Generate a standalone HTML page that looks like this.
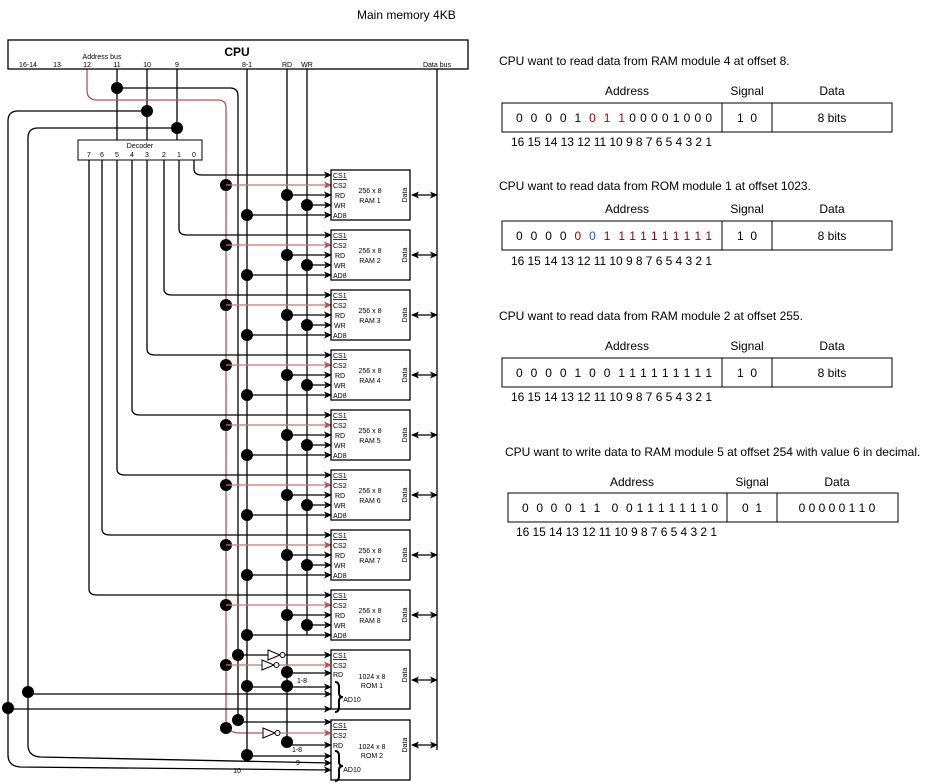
<!DOCTYPE html>
<html><head><meta charset="utf-8"><style>
body{margin:0;background:#fff}
svg{display:block;font-family:"Liberation Sans",Arial,sans-serif}
</style></head><body>
<svg id="s" width="928" height="784" viewBox="0 0 928 784" xmlns="http://www.w3.org/2000/svg">
<defs>
<marker id="a" markerWidth="8" markerHeight="8" refX="7" refY="4" orient="auto" markerUnits="userSpaceOnUse"><path d="M0,0.5 L8,4 L0,7.5 L2,4z" fill="#000"/></marker>
<marker id="ar" markerWidth="8" markerHeight="8" refX="7" refY="4" orient="auto" markerUnits="userSpaceOnUse"><path d="M0,0.5 L8,4 L0,7.5 L2,4z" fill="#b85450"/></marker>
<marker id="as" markerWidth="8" markerHeight="8" refX="1" refY="4" orient="auto" markerUnits="userSpaceOnUse"><path d="M8,0.5 L0,4 L8,7.5 L6,4z" fill="#000"/></marker>
</defs>
<g id="g" fill="none" stroke="#000" stroke-width="1.3"></g>
<g font-size="12" fill="#000">
<text x="357" y="19">Main memory 4KB</text>
</g>
<rect x="8" y="40" width="460" height="29" fill="none" stroke="#000" stroke-width="1.3"/>
<rect x="78" y="140" width="124" height="20" fill="#fff" stroke="#000" stroke-width="1"/>
<g font-size="7" text-anchor="middle">
<text x="237" y="56" font-size="12" font-weight="bold">CPU</text>
<text x="102" y="59">Address bus</text>
<text x="28" y="67">16-14</text><text x="57" y="67">13</text><text x="87" y="67">12</text><text x="117" y="67">11</text><text x="147" y="67">10</text><text x="177" y="67">9</text><text x="247" y="67">8-1</text><text x="287" y="67">RD</text><text x="307" y="67">WR</text><text x="437" y="67">Data bus</text>
<text x="140" y="148">Decoder</text>
<text x="89" y="157">7</text><text x="102" y="157">6</text><text x="117" y="157">5</text><text x="132" y="157">4</text><text x="147" y="157">3</text><text x="164" y="157">2</text><text x="179" y="157">1</text><text x="194" y="157">0</text>
</g>
<g font-size="7" text-anchor="middle">
<text x="370" y="193">256 x 8</text><text x="370" y="203">RAM 1</text>
<text x="370" y="253">256 x 8</text><text x="370" y="263">RAM 2</text>
<text x="370" y="313">256 x 8</text><text x="370" y="323">RAM 3</text>
<text x="370" y="373">256 x 8</text><text x="370" y="383">RAM 4</text>
<text x="370" y="433">256 x 8</text><text x="370" y="443">RAM 5</text>
<text x="370" y="493">256 x 8</text><text x="370" y="503">RAM 6</text>
<text x="370" y="553">256 x 8</text><text x="370" y="563">RAM 7</text>
<text x="370" y="613">256 x 8</text><text x="370" y="623">RAM 8</text>
<text x="372" y="679">1024 x 8</text><text x="372" y="688">ROM 1</text>
<text x="372" y="749">1024 x 8</text><text x="372" y="758">ROM 2</text>
<text x="302" y="683">1-8</text><text x="297" y="752">1-8</text>
<text x="298" y="765">9</text><text x="237" y="773">10</text>
<text x="352" y="702">AD10</text><text x="352" y="772">AD10</text>
</g>
<g font-size="7" text-anchor="start" id="pins">
<text x="333" y="178">CS1</text><text x="333" y="188">CS2</text><text x="335" y="198">RD</text><text x="334" y="208">WR</text><text x="333" y="218">AD8</text>
<text x="333" y="238">CS1</text><text x="333" y="248">CS2</text><text x="335" y="258">RD</text><text x="334" y="268">WR</text><text x="333" y="278">AD8</text>
<text x="333" y="298">CS1</text><text x="333" y="308">CS2</text><text x="335" y="318">RD</text><text x="334" y="328">WR</text><text x="333" y="338">AD8</text>
<text x="333" y="358">CS1</text><text x="333" y="368">CS2</text><text x="335" y="378">RD</text><text x="334" y="388">WR</text><text x="333" y="398">AD8</text>
<text x="333" y="418">CS1</text><text x="333" y="428">CS2</text><text x="335" y="438">RD</text><text x="334" y="448">WR</text><text x="333" y="458">AD8</text>
<text x="333" y="478">CS1</text><text x="333" y="488">CS2</text><text x="335" y="498">RD</text><text x="334" y="508">WR</text><text x="333" y="518">AD8</text>
<text x="333" y="538">CS1</text><text x="333" y="548">CS2</text><text x="335" y="558">RD</text><text x="334" y="568">WR</text><text x="333" y="578">AD8</text>
<text x="333" y="598">CS1</text><text x="333" y="608">CS2</text><text x="335" y="618">RD</text><text x="334" y="628">WR</text><text x="333" y="638">AD8</text>
<text x="333" y="658">CS1</text><text x="333" y="668">CS2</text><text x="333" y="677">RD</text>
<text x="333" y="728">CS1</text><text x="333" y="738">CS2</text><text x="333" y="748">RD</text>
</g>
<g font-size="7" text-anchor="middle">
<text transform="translate(407,195) rotate(-90)">Data</text><text transform="translate(407,255) rotate(-90)">Data</text><text transform="translate(407,315) rotate(-90)">Data</text><text transform="translate(407,375) rotate(-90)">Data</text><text transform="translate(407,435) rotate(-90)">Data</text><text transform="translate(407,495) rotate(-90)">Data</text><text transform="translate(407,555) rotate(-90)">Data</text><text transform="translate(407,615) rotate(-90)">Data</text><text transform="translate(407,675) rotate(-90)">Data</text><text transform="translate(407,745) rotate(-90)">Data</text>
</g>

<g font-size="12" fill="#000">
<text x="499" y="65">CPU want to read data from RAM module 4 at offset 8.</text>
<text x="627" y="95" text-anchor="middle">Address</text><text x="747" y="95" text-anchor="middle">Signal</text><text x="832" y="95" text-anchor="middle">Data</text>
<rect x="502" y="103" width="390" height="29" fill="none" stroke="#000"/><line x1="722" y1="103" x2="722" y2="132" stroke="#000"/><line x1="772" y1="103" x2="772" y2="132" stroke="#000"/>
<text x="516" y="122" xml:space="preserve" textLength="196" lengthAdjust="spacing">0  0  0  0  1  <tspan fill="#a00">0</tspan>  <tspan fill="#a00">1</tspan>  <tspan fill="#a00">1</tspan> 0 0 0 0 1 0 0 0</text>
<text x="747" y="122" text-anchor="middle" xml:space="preserve">1  0</text><text x="832" y="122" text-anchor="middle">8 bits</text>
<text x="511" y="146" textLength="201" lengthAdjust="spacing">16 15 14 13 12 11 10 9 8 7 6 5 4 3 2 1</text>

<text x="499" y="190">CPU want to read data from ROM module 1 at offset 1023.</text>
<text x="627" y="213" text-anchor="middle">Address</text><text x="747" y="213" text-anchor="middle">Signal</text><text x="832" y="213" text-anchor="middle">Data</text>
<rect x="502" y="221" width="390" height="29" fill="none" stroke="#000"/><line x1="722" y1="221" x2="722" y2="250" stroke="#000"/><line x1="772" y1="221" x2="772" y2="250" stroke="#000"/>
<text x="516" y="240" xml:space="preserve" textLength="196" lengthAdjust="spacing">0  0  0  0  <tspan fill="#a00">0</tspan>  <tspan fill="#1a5fb4">0</tspan>  <tspan fill="#800">1  1 1 1 1 1 1 1 1 1</tspan></text>
<text x="747" y="240" text-anchor="middle" xml:space="preserve">1  0</text><text x="832" y="240" text-anchor="middle">8 bits</text>
<text x="511" y="265" textLength="201" lengthAdjust="spacing">16 15 14 13 12 11 10 9 8 7 6 5 4 3 2 1</text>

<text x="499" y="320">CPU want to read data from RAM module 2 at offset 255.</text>
<text x="627" y="350" text-anchor="middle">Address</text><text x="747" y="350" text-anchor="middle">Signal</text><text x="832" y="350" text-anchor="middle">Data</text>
<rect x="502" y="358" width="390" height="29" fill="none" stroke="#000"/><line x1="722" y1="358" x2="722" y2="387" stroke="#000"/><line x1="772" y1="358" x2="772" y2="387" stroke="#000"/>
<text x="516" y="377" xml:space="preserve" textLength="196" lengthAdjust="spacing">0  0  0  0  1  0  0  1 1 1 1 1 1 1 1 1</text>
<text x="747" y="377" text-anchor="middle" xml:space="preserve">1  0</text><text x="832" y="377" text-anchor="middle">8 bits</text>
<text x="511" y="401" textLength="201" lengthAdjust="spacing">16 15 14 13 12 11 10 9 8 7 6 5 4 3 2 1</text>

<text x="505" y="456">CPU want to write data to RAM module 5 at offset 254 with value 6 in decimal.</text>
<text x="632" y="486" text-anchor="middle">Address</text><text x="752" y="486" text-anchor="middle">Signal</text><text x="837" y="486" text-anchor="middle">Data</text>
<rect x="508" y="493" width="390" height="29" fill="none" stroke="#000"/><line x1="727" y1="493" x2="727" y2="522" stroke="#000"/><line x1="777" y1="493" x2="777" y2="522" stroke="#000"/>
<text x="522" y="512" xml:space="preserve" textLength="196" lengthAdjust="spacing">0  0  0  0  1  1   0  0 1 1 1 1 1 1 1 0</text>
<text x="752" y="512" text-anchor="middle" xml:space="preserve">0  1</text><text x="837" y="512" text-anchor="middle">0 0 0 0 0 1 1 0</text>
<text x="516" y="536" textLength="201" lengthAdjust="spacing">16 15 14 13 12 11 10 9 8 7 6 5 4 3 2 1</text>
</g>
</svg>
<script>
var g=document.getElementById('g'),h='';
function P(d,o){h+='<path d="'+d+'" '+(o||'')+'/>';}
function D(x,y){h+='<circle cx="'+x+'" cy="'+y+'" r="6" fill="#000" stroke="none"/>';}
function A(x1,y,x2,c){P('M'+x1+','+y+'H'+x2,c=='r'?'stroke="#d0706b" marker-end="url(#ar)"':'marker-end="url(#a)"');}
P('M117,69V140');P('M147,69V140');P('M177,69V140');
P('M87,69V90Q87,100 97,100H218Q226,100 226,108V720Q226,733 240,733H262','stroke="#b85450"');
P('M117,88H230Q238,88 238,96V722');
P('M147,111H18Q8,111 8,121V755Q8,766 20,767L331,770','marker-end="url(#a)"');
P('M177,128H38Q28,128 28,138V745Q28,756 40,757L331,763','marker-end="url(#a)"');
P('M247,69V756');P('M287,69V745');P('M307,69V635');P('M437,69V750');
D(117,88);D(147,111);D(177,128);
var xs=[194,179,164,147,132,117,102,89];
for(var i=0;i<8;i++){var t=170+60*i,x=xs[i];
 P('M'+x+',160V'+(t-1)+'Q'+x+','+(t+5)+' '+(x+8)+','+(t+5)+'H331','marker-end="url(#a)"');
 D(226,t+15);A(226,t+15,331,'r');D(287,t+25);A(287,t+25,331);D(307,t+35);A(307,t+35,331);D(247,t+45);A(247,t+45,331);
 h+='<rect x="331" y="'+t+'" width="79" height="50" fill="none"/>';
 P('M412,'+(t+25)+'H437','marker-start="url(#as)" marker-end="url(#a)"');
 h+='<line x1="333" y1="'+(t+9.5)+'" x2="347" y2="'+(t+9.5)+'" stroke-width="0.8"/>';
}
h+='<rect x="331" y="650" width="79" height="59" fill="none"/><rect x="331" y="720" width="79" height="60" fill="none"/>';
h+='<line x1="333" y1="659.5" x2="347" y2="659.5" stroke-width="0.8"/><line x1="333" y1="729.5" x2="347" y2="729.5" stroke-width="0.8"/>';
D(238,655);A(238,655,331);D(226,665);A(226,665,331,'r');D(287,672);A(287,673,331);
D(247,686);D(287,686);A(247,687,331);D(28,692);A(28,694,331);D(8,708);A(8,709,331);
P('M412,680H437','marker-start="url(#as)" marker-end="url(#a)"');
D(238,720);A(238,722,331);D(226,728);A(262,733,331,'r');D(287,742);A(287,745,331);D(247,755);A(247,756,331);
P('M412,745H437','marker-start="url(#as)" marker-end="url(#a)"');
function INV(x,y){h+='<path d="M'+x+','+(y-5)+'L'+(x+12)+','+y+'L'+x+','+(y+5)+'Z" fill="#fff" stroke-width="1"/><circle cx="'+(x+14.5)+'" cy="'+y+'" r="2.5" fill="#fff" stroke-width="1"/>';}
INV(268,655);INV(262,665);INV(263,733);
function BR(y1,y2){var m=(y1+y2)/2;P('M335,'+y1+'Q339,'+y1+' 339,'+(y1+5)+'V'+(m-4)+'Q339,'+m+' 343,'+m+'Q339,'+m+' 339,'+(m+4)+'V'+(y2-5)+'Q339,'+y2+' 335,'+y2,'stroke-width="2"');}
BR(682,712);BR(751,781);
g.innerHTML=h;
</script>
</body></html>
